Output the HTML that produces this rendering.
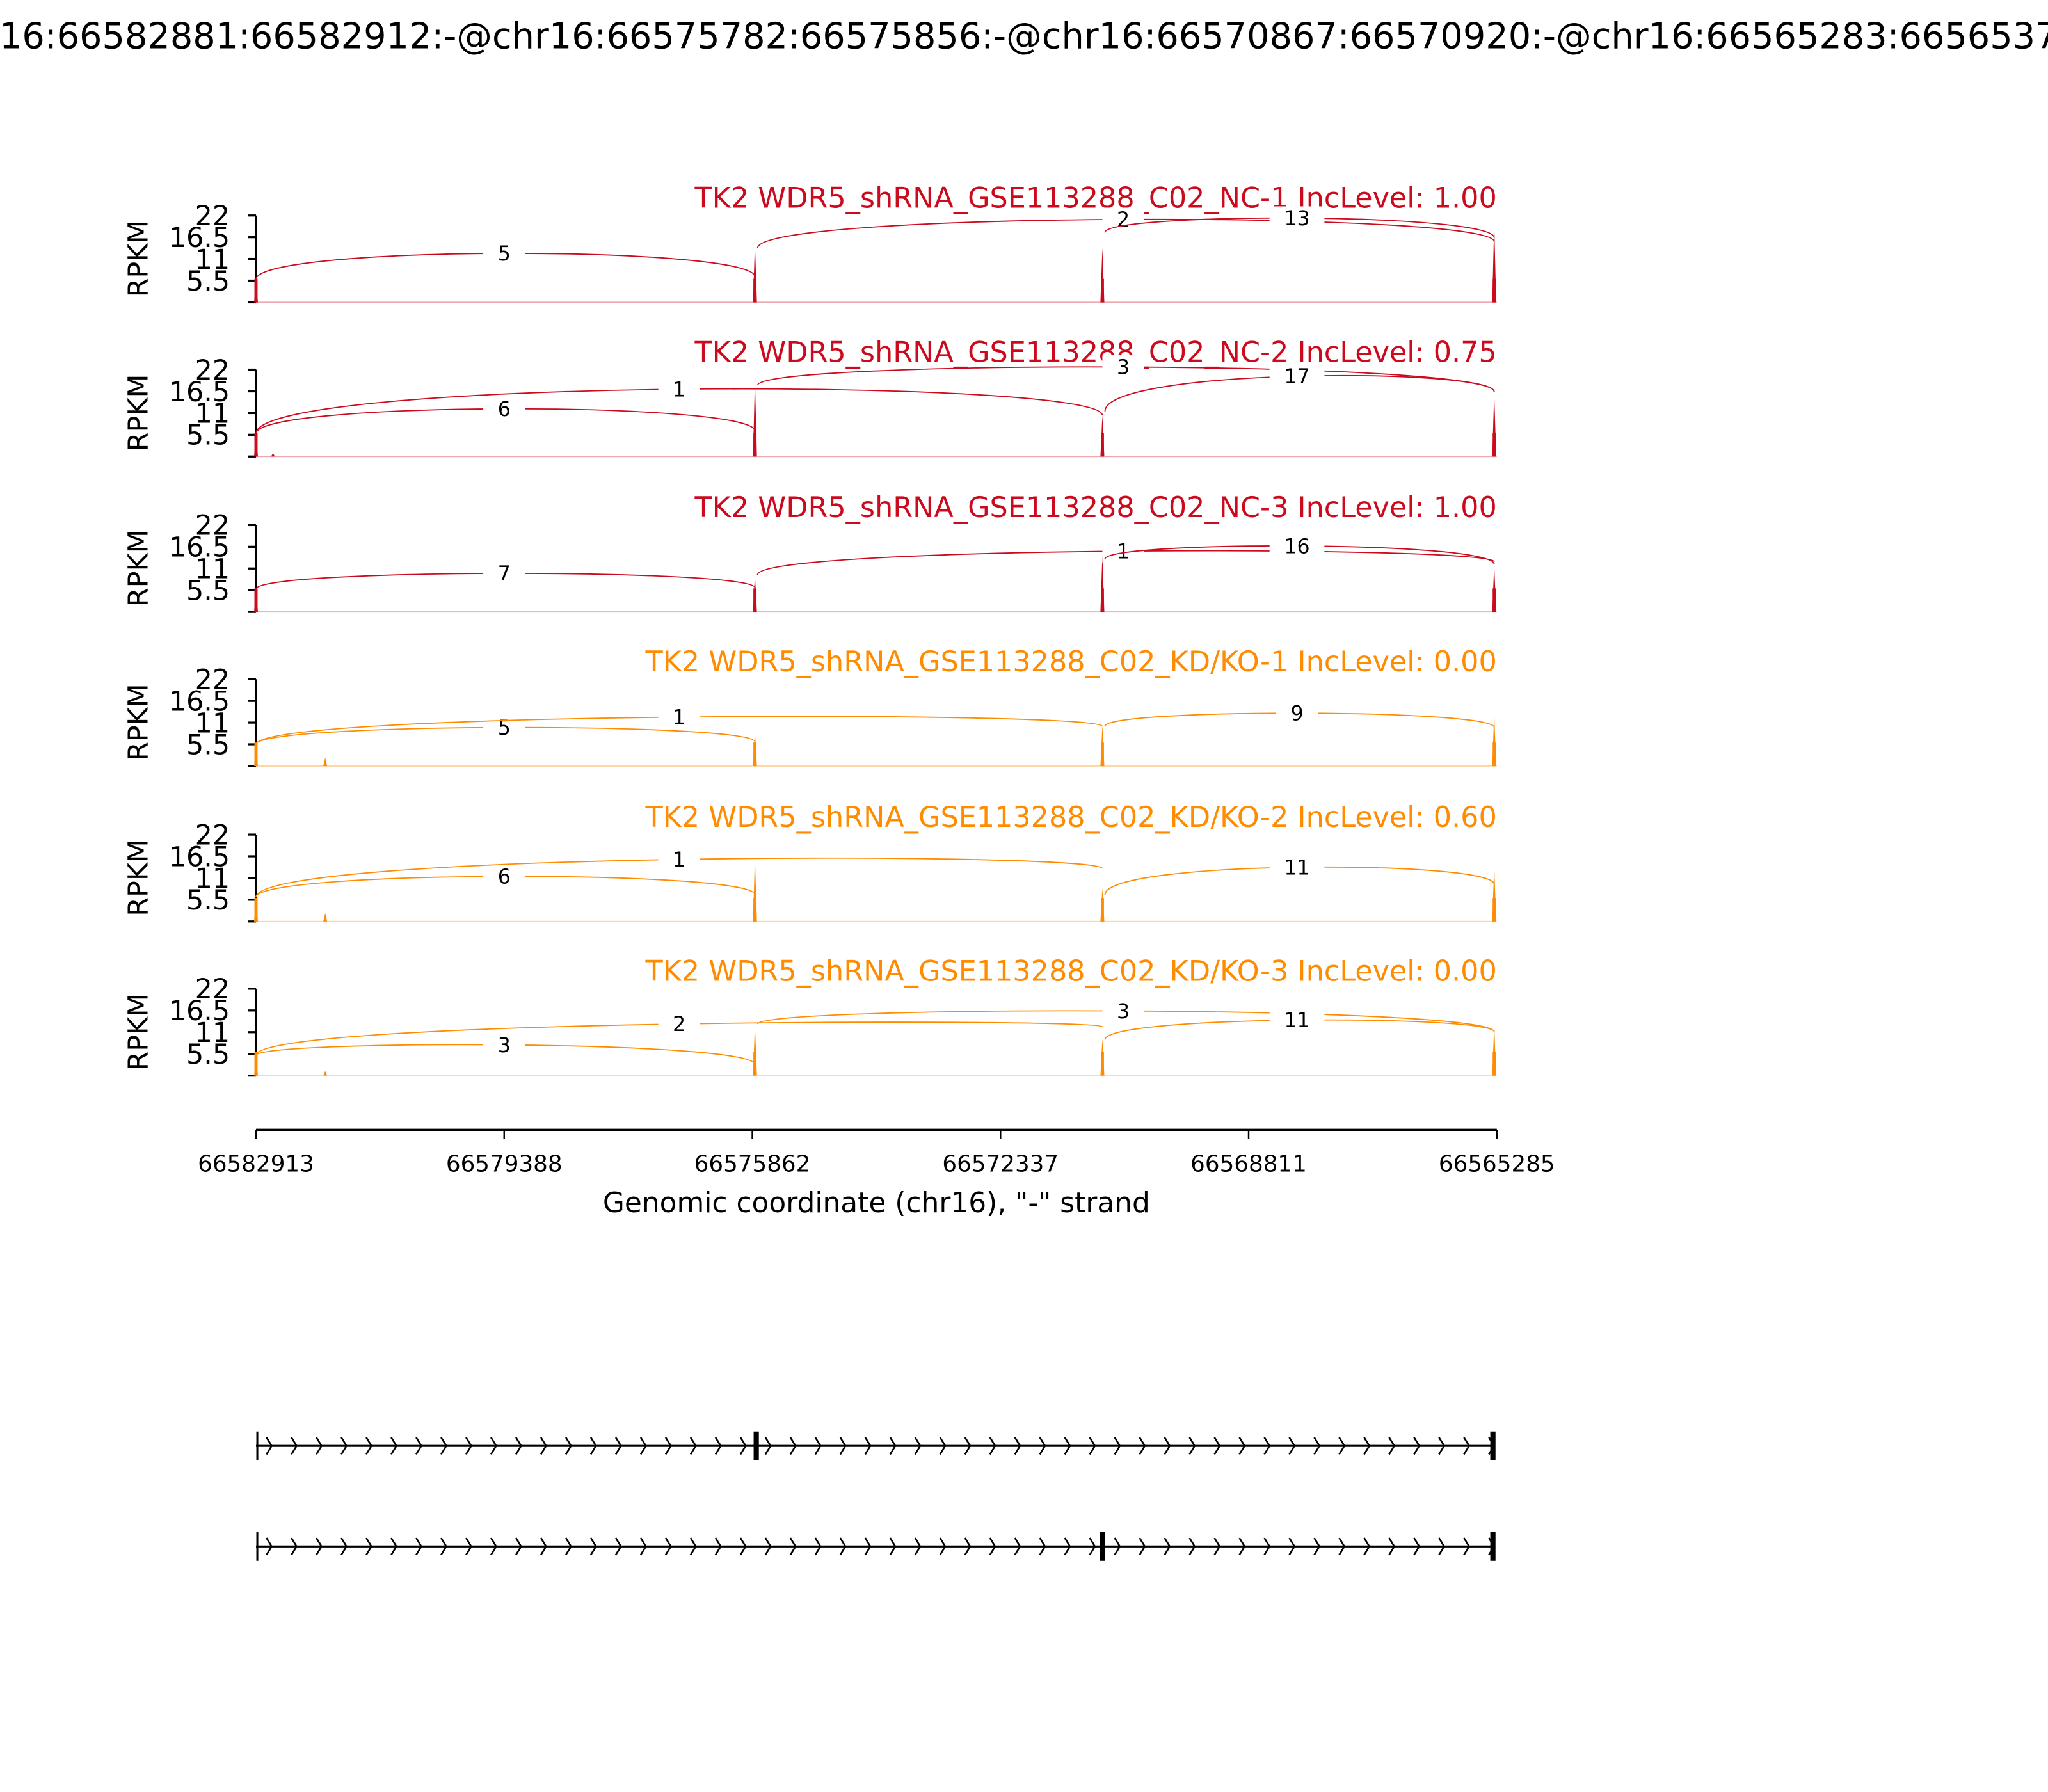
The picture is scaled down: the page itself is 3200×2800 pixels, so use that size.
<!DOCTYPE html>
<html><head><meta charset="utf-8">
<style>
html,body{margin:0;padding:0;background:#fff;}
svg{display:block;}
text{font-family:"DejaVu Sans","Liberation Sans",sans-serif;}
</style></head>
<body>
<svg id="s" width="3200" height="2800" viewBox="0 0 1568 1372" xmlns="http://www.w3.org/2000/svg">
<rect width="1568" height="1372" fill="#fff"/>
<text x="784" y="37" font-size="27.3" text-anchor="middle">chr16:66582881:66582912:-@chr16:66575782:66575856:-@chr16:66570867:66570920:-@chr16:66565283:66565374:-</text>
<g id="g"></g>
</svg>
<script>
var g=document.getElementById('g');var h='';
var RED='#cc0a1e',OR='#ff8c00';
var panels=[
{T:165,c:RED,t:'TK2 WDR5_shRNA_GSE113288_C02_NC-1 IncLevel: 1.00',
 arcs:[[196,214,578,212,194,'5',386],[580,190,1144,185,168,'2',860],[846,178,1144,182,167,'13',993]],
 sp:[[196,214,1],[578,186,1],[844,190,1],[1144,170,1]]},
{T:283,c:RED,t:'TK2 WDR5_shRNA_GSE113288_C02_NC-2 IncLevel: 0.75',
 arcs:[[196,332,578,330,313,'6',386],[196,332,844,318,298,'1',520],[580,295,1144,300,281,'3',860],[846,315,1144,300,288,'17',993]],
 sp:[[196,332,1],[209,347,0],[578,290,1],[844,318,1],[1144,300,1]]},
{T:402,c:RED,t:'TK2 WDR5_shRNA_GSE113288_C02_NC-3 IncLevel: 1.00',
 arcs:[[196,451,578,450,439,'7',386],[580,440,1144,430,422,'1',860],[846,428,1144,432,418,'16',993]],
 sp:[[196,451,1],[578,440,1],[844,425,1],[1144,432,1]]},
{T:520,c:OR,t:'TK2 WDR5_shRNA_GSE113288_C02_KD/KO-1 IncLevel: 0.00',
 arcs:[[196,570,578,568,557,'5',386],[196,570,844,556,549,'1',520],[846,556,1144,557,546,'9',993]],
 sp:[[196,570,1],[249,580,0],[578,560,1],[844,555,1],[1144,545,1]]},
{T:639,c:OR,t:'TK2 WDR5_shRNA_GSE113288_C02_KD/KO-2 IncLevel: 0.60',
 arcs:[[196,687,578,685,671,'6',386],[196,687,844,665,658,'1',520],[846,685,1144,677,664,'11',993]],
 sp:[[196,687,1],[249,699,0],[578,656,1],[844,680,1],[1144,662,1]]},
{T:757,c:OR,t:'TK2 WDR5_shRNA_GSE113288_C02_KD/KO-3 IncLevel: 0.00',
 arcs:[[196,808,578,815,800,'3',386],[196,808,844,786,784,'2',520],[580,784,1144,790,774,'3',860],[846,796,1144,790,781,'11',993]],
 sp:[[196,808,1],[249,820,0],[578,784,1],[844,795,1],[1144,784,1]]}
];
panels.forEach(function(p){
 var T=p.T,B=T+66.5,c=p.c;
 h+='<text x="1146" y="'+(T-6)+'" font-size="21.8" text-anchor="end" fill="'+c+'">'+p.t+'</text>';
 h+='<line x1="196" y1="'+T+'" x2="196" y2="'+B+'" stroke="#000" stroke-width="1.6"/>';
 var labs=['22','16.5','11','5.5'];
 for(var i=0;i<5;i++){var y=T+i*16.625;h+='<line x1="190" y1="'+y+'" x2="196" y2="'+y+'" stroke="#000" stroke-width="1.6"/>';
  if(i<4)h+='<text x="176" y="'+(y+7.5)+'" font-size="21" text-anchor="end">'+labs[i]+'</text>';}
 h+='<text transform="translate(113,'+(T+33)+') rotate(-90)" font-size="21" text-anchor="middle">RPKM</text>';
 h+='<line x1="196" y1="'+B+'" x2="1146" y2="'+B+'" stroke="'+c+'" stroke-opacity="0.35" stroke-width="1"/>';
 p.sp.forEach(function(s){h+='<polygon points="'+(s[0]-1.5)+','+B+' '+s[0]+','+s[1]+' '+(s[0]+1.5)+','+B+'" fill="'+c+'"/>';
   if(s[2])h+='<rect x="'+(s[0]-1.2)+'" y="'+(B-18)+'" width="2.4" height="18" fill="'+c+'"/>';});
 p.arcs.forEach(function(a){
  var x1=a[0],y1=a[1],x2=a[2],y2=a[3],pk=a[4];
  var k=(8*pk-y1-y2)/6;
  h+='<path d="M'+x1+','+y1+' C'+x1+','+k+' '+x2+','+k+' '+x2+','+y2+'" fill="none" stroke="'+c+'" stroke-width="0.9"/>';
  var lx=a[6],w=a[5].length*10+22;
  h+='<rect x="'+(lx-w/2)+'" y="'+(pk-9)+'" width="'+w+'" height="18" fill="#fff"/>';
  h+='<text x="'+lx+'" y="'+(pk+5.5)+'" font-size="15.5" text-anchor="middle">'+a[5]+'</text>';
 });
});
h+='<line x1="196" y1="865" x2="1146" y2="865" stroke="#000" stroke-width="1.6"/>';
var xt=['66582913','66579388','66575862','66572337','66568811','66565285'];
for(var i=0;i<6;i++){var x=196+i*190;h+='<line x1="'+x+'" y1="865" x2="'+x+'" y2="872" stroke="#000" stroke-width="1.2"/>';
 h+='<text x="'+x+'" y="897" font-size="17.5" text-anchor="middle">'+xt[i]+'</text>';}
h+='<text x="671" y="928" font-size="21.5" text-anchor="middle">Genomic coordinate (chr16), "-" strand</text>';
function track(y,ex){
 h+='<line x1="196" y1="'+y+'" x2="1144" y2="'+y+'" stroke="#000" stroke-width="1.5"/>';
 h+='<line x1="197" y1="'+(y-11)+'" x2="197" y2="'+(y+11)+'" stroke="#000" stroke-width="1.5"/>';
 for(var x=204;x<1142;x+=19.1){h+='<polyline points="'+x+','+(y-6.5)+' '+(x+4)+','+y+' '+x+','+(y+6.5)+'" fill="none" stroke="#000" stroke-width="1.3"/>';}
 ex.forEach(function(e){h+='<rect x="'+(e-2)+'" y="'+(y-11)+'" width="4" height="22" fill="#000"/>';});
}
track(1107,[579,1143]);
track(1184,[844,1143]);
g.innerHTML=h;
</script>
</body></html>
